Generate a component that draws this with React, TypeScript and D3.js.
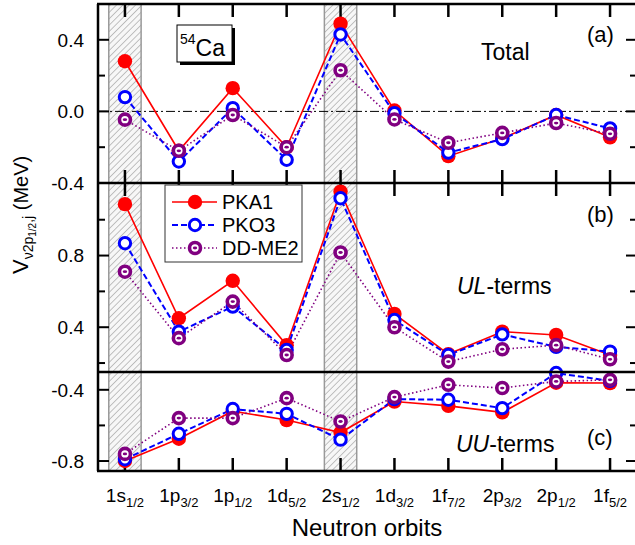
import { useEffect, useRef } from "react";
import * as d3 from "d3";

// neutron orbits on the x axis
const orbits = ["1s", "1p", "1p", "1d", "2s", "1d", "1f", "2p", "2p", "1f"];
const orbitSubs = ["1/2", "3/2", "1/2", "5/2", "1/2", "3/2", "7/2", "3/2", "1/2", "5/2"];
const shadedOrbits = [0, 4];

// (a) total
const totalPKA1 = [0.28, -0.22, 0.13, -0.2, 0.49, 0.005, -0.25, -0.15, -0.02, -0.145];
const totalPKO3 = [0.08, -0.28, 0.018, -0.27, 0.43, -0.01, -0.23, -0.155, -0.02, -0.095];
const totalDDME2 = [-0.046, -0.22, -0.02, -0.2, 0.23, -0.045, -0.175, -0.12, -0.065, -0.125];

// (b) UL-terms
const ulPKA1 = [1.087, 0.45, 0.659, 0.3, 1.157, 0.474, 0.25, 0.375, 0.357, 0.245];
const ulPKO3 = [0.869, 0.375, 0.515, 0.273, 1.12, 0.44, 0.245, 0.36, 0.29, 0.264];
const ulDDME2 = [0.71, 0.339, 0.543, 0.245, 0.817, 0.4, 0.208, 0.277, 0.3, 0.221];

// (c) UU-terms
const uuPKA1 = [-0.8, -0.675, -0.52, -0.57, -0.64, -0.466, -0.49, -0.527, -0.36, -0.362];
const uuPKO3 = [-0.79, -0.647, -0.508, -0.535, -0.68, -0.452, -0.456, -0.503, -0.306, -0.35];
const uuDDME2 = [-0.76, -0.559, -0.559, -0.447, -0.578, -0.441, -0.372, -0.39, -0.353, -0.344];

const seriesNames = ["PKA1", "PKO3", "DD-ME2"];
const seriesColors = ["#ff0000", "#0000ff", "#800080"];
const seriesDash = ["none", "6,3", "1.5,2.5"];

const FONT = "Arial, 'Liberation Sans', Helvetica, sans-serif";

export default function App() {
  const ref = useRef<SVGSVGElement | null>(null);

  useEffect(() => {
    const width = 635, height = 545;
    const left = 98, right = 637;

    const svg = d3.select(ref.current);
    svg.selectAll("*").remove();

    const x = d3.scaleLinear().domain([-0.5, 9.5]).range([left, right]);

    const panels = [
      { top: 4, bottom: 183, domain: [-0.4, 0.6], major: [0.4, 0.0], minor: [0.2, -0.2], labels: [0.4, 0.0, -0.4],
        data: [totalPKA1, totalPKO3, totalDDME2], topTicks: true, bottomTicks: true },
      { top: 183, bottom: 372, domain: [0.15, 1.205], major: [0.4, 0.8], minor: [0.2, 0.6, 1.0], labels: [0.4, 0.8],
        data: [ulPKA1, ulPKO3, ulDDME2], topTicks: true, bottomTicks: false },
      { top: 372, bottom: 471, domain: [-0.856, -0.3], major: [-0.4, -0.8], minor: [-0.6], labels: [-0.4, -0.8],
        data: [uuPKA1, uuPKO3, uuDDME2], topTicks: false, bottomTicks: true },
    ];

    // hatch pattern for the shaded orbits
    const defs = svg.append("defs");
    const pat = defs.append("pattern")
      .attr("id", "hatch")
      .attr("patternUnits", "userSpaceOnUse")
      .attr("width", 4.5)
      .attr("height", 4.5)
      .attr("patternTransform", "rotate(45)");
    pat.append("rect").attr("width", 4.5).attr("height", 4.5).attr("fill", "#f7f7f7");
    pat.append("line").attr("x1", 0).attr("y1", 0).attr("x2", 0).attr("y2", 4.5)
      .attr("stroke", "#8a8a8a").attr("stroke-width", 1);

    shadedOrbits.forEach(i => {
      svg.append("rect")
        .attr("x", x(i - 0.3))
        .attr("y", 4)
        .attr("width", x(i + 0.3) - x(i - 0.3))
        .attr("height", 471 - 4)
        .attr("fill", "url(#hatch)")
        .attr("stroke", "#999")
        .attr("stroke-width", 1.5);
    });

    panels.forEach((p, pi) => {
      const y = d3.scaleLinear().domain(p.domain).range([p.bottom, p.top]);
      const g = svg.append("g");

      if (pi === 0) {
        g.append("line")
          .attr("x1", left).attr("x2", right)
          .attr("y1", y(0)).attr("y2", y(0))
          .attr("stroke", "#000").attr("stroke-width", 1)
          .attr("stroke-dasharray", "9,3,2,3");
      }

      // y ticks, inward on both sides
      p.major.forEach(v => {
        g.append("line").attr("x1", left).attr("x2", left + 11).attr("y1", y(v)).attr("y2", y(v))
          .attr("stroke", "#000").attr("stroke-width", 2);
        g.append("line").attr("x1", right).attr("x2", right - 11).attr("y1", y(v)).attr("y2", y(v))
          .attr("stroke", "#000").attr("stroke-width", 2);
      });
      p.minor.forEach(v => {
        g.append("line").attr("x1", left).attr("x2", left + 7).attr("y1", y(v)).attr("y2", y(v))
          .attr("stroke", "#000").attr("stroke-width", 2);
        g.append("line").attr("x1", right).attr("x2", right - 7).attr("y1", y(v)).attr("y2", y(v))
          .attr("stroke", "#000").attr("stroke-width", 2);
      });
      p.labels.forEach(v => {
        g.append("text")
          .attr("x", left - 14)
          .attr("y", y(v))
          .attr("dy", "0.36em")
          .attr("text-anchor", "end")
          .attr("font-family", FONT)
          .attr("font-size", 19)
          .text(v.toFixed(1));
      });

      // x ticks
      orbits.forEach((_, i) => {
        if (p.topTicks) {
          g.append("line").attr("x1", x(i)).attr("x2", x(i)).attr("y1", p.top).attr("y2", p.top + 13)
            .attr("stroke", "#000").attr("stroke-width", 2.5);
        }
        if (p.bottomTicks) {
          g.append("line").attr("x1", x(i)).attr("x2", x(i)).attr("y1", p.bottom).attr("y2", p.bottom - 13)
            .attr("stroke", "#000").attr("stroke-width", 2.5);
        }
      });

      // series
      p.data.forEach((vals, si) => {
        const line = d3.line<number>().x((_, i) => x(i)).y(d => y(d));
        g.append("path")
          .attr("d", line(vals))
          .attr("fill", "none")
          .attr("stroke", seriesColors[si])
          .attr("stroke-width", si === 1 ? 2 : 1.6)
          .attr("stroke-dasharray", seriesDash[si]);
      });
      p.data.forEach((vals, si) => {
        vals.forEach((v, i) => drawMarker(g, si, x(i), y(v)));
      });
    });

    // frame
    const frame = svg.append("g").attr("stroke", "#000").attr("stroke-width", 2.5);
    frame.append("line").attr("x1", left).attr("x2", left).attr("y1", 4).attr("y2", 471);
    frame.append("line").attr("x1", right).attr("x2", right).attr("y1", 4).attr("y2", 471);
    [4, 183, 372, 471].forEach(yy => {
      frame.append("line").attr("x1", left - 1).attr("x2", right).attr("y1", yy).attr("y2", yy);
    });

    // category labels
    orbits.forEach((o, i) => {
      const t = svg.append("text")
        .attr("x", x(i))
        .attr("y", 502)
        .attr("text-anchor", "middle")
        .attr("font-family", FONT)
        .attr("font-size", 19);
      t.append("tspan").text(o);
      t.append("tspan").attr("font-size", 13).attr("dy", 5).text(orbitSubs[i]);
    });

    svg.append("text")
      .attr("x", 367)
      .attr("y", 536)
      .attr("text-anchor", "middle")
      .attr("font-family", FONT)
      .attr("font-size", 24)
      .text("Neutron orbits");

    // y axis title
    const yt = svg.append("text")
      .attr("transform", "translate(28,274) rotate(-90)")
      .attr("font-family", FONT)
      .attr("font-size", 22);
    yt.append("tspan").text("V");
    yt.append("tspan").attr("font-size", 14).attr("dy", 5).text("ν2p");
    yt.append("tspan").attr("font-size", 10).attr("dy", 3).text("1/2");
    yt.append("tspan").attr("font-size", 14).attr("dy", -3).text(",j");
    yt.append("tspan").attr("font-size", 20).attr("dy", -5).text(" (MeV)");

    // panel annotations
    const note = (tx: number, ty: number, size: number) =>
      svg.append("text").attr("x", tx).attr("y", ty).attr("font-family", FONT).attr("font-size", size);
    note(587, 42, 22).text("(a)");
    note(481, 60, 23).text("Total");
    note(587, 222, 22).text("(b)");
    const ul = note(457, 294, 23);
    ul.append("tspan").attr("font-style", "italic").text("UL");
    ul.append("tspan").text("-terms");
    note(587, 445, 22).text("(c)");
    const uu = note(456, 452, 23);
    uu.append("tspan").attr("font-style", "italic").text("UU");
    uu.append("tspan").text("-terms");

    // 54Ca box
    svg.append("rect").attr("x", 180).attr("y", 28).attr("width", 55).attr("height", 37).attr("fill", "#000");
    svg.append("rect").attr("x", 177).attr("y", 25).attr("width", 55).attr("height", 37)
      .attr("fill", "#fff").attr("stroke", "#000").attr("stroke-width", 1);
    const ca = note(180, 56, 23);
    ca.append("tspan").attr("font-size", 14).attr("dy", -12).text("54");
    ca.append("tspan").attr("dy", 12).text("Ca");

    // legend
    const lg = svg.append("g");
    lg.append("rect").attr("x", 165).attr("y", 185).attr("width", 137).attr("height", 77)
      .attr("fill", "#fff").attr("stroke", "#333").attr("stroke-width", 1);
    seriesNames.forEach((name, si) => {
      const ly = 202 + si * 23;
      lg.append("line").attr("x1", 172).attr("x2", 217).attr("y1", ly).attr("y2", ly)
        .attr("stroke", seriesColors[si]).attr("stroke-width", si === 1 ? 2 : 1.6)
        .attr("stroke-dasharray", seriesDash[si]);
      drawMarker(lg, si, 195, ly);
      lg.append("text").attr("x", 222).attr("y", ly).attr("dy", "0.36em")
        .attr("font-family", FONT).attr("font-size", 20).text(name);
    });

    svg.attr("width", width).attr("height", height);
  }, []);

  return (
    <svg ref={ref} width={635} height={545}
         style={{ position: "absolute", left: 0, top: 0, background: "#fff" }} />
  );
}

function drawMarker(g: d3.Selection<any, unknown, null, undefined>, si: number, cx: number, cy: number) {
  if (si === 0) {
    g.append("circle").attr("cx", cx).attr("cy", cy).attr("r", 7.2).attr("fill", seriesColors[0]);
  } else if (si === 1) {
    g.append("circle").attr("cx", cx).attr("cy", cy).attr("r", 5.7)
      .attr("fill", "#fff").attr("stroke", seriesColors[1]).attr("stroke-width", 3);
  } else {
    g.append("circle").attr("cx", cx).attr("cy", cy).attr("r", 5.5)
      .attr("fill", "#fff").attr("stroke", seriesColors[2]).attr("stroke-width", 3.6);
    g.append("ellipse").attr("cx", cx).attr("cy", cy).attr("rx", 2.2).attr("ry", 1.4)
      .attr("fill", seriesColors[2]);
  }
}
